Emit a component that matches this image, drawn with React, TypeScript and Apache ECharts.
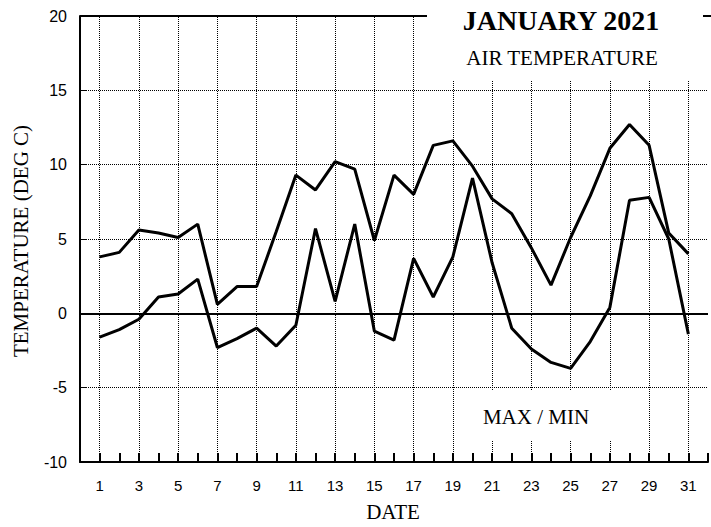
import React, { useEffect, useRef } from "react";
import * as echarts from "echarts";

const days = [1, 2, 3, 4, 5, 6, 7, 8, 9, 10, 11, 12, 13, 14, 15, 16, 17, 18, 19, 20, 21, 22, 23, 24, 25, 26, 27, 28, 29, 30, 31];
const maxTemp = [3.8, 4.1, 5.6, 5.4, 5.1, 6.0, 0.6, 1.8, 1.8, 5.5, 9.3, 8.3, 10.2, 9.7, 4.9, 9.3, 8.0, 11.3, 11.6, 9.9, 7.7, 6.7, 4.4, 1.9, 5.1, 7.9, 11.1, 12.7, 11.3, 5.4, 4.0];
const minTemp = [-1.6, -1.1, -0.4, 1.1, 1.3, 2.3, -2.3, -1.7, -1.0, -2.2, -0.8, 5.7, 0.8, 6.0, -1.2, -1.8, 3.7, 1.1, 3.8, 9.1, 3.4, -1.0, -2.4, -3.3, -3.7, -1.9, 0.4, 7.6, 7.8, 5.0, -1.4];
const gridDays = [1, 3, 5, 7, 9, 11, 13, 15, 17, 19, 21, 23, 25, 27, 29, 31];
const yTicks = [-10, -5, 0, 5, 10, 15, 20];

const title = "JANUARY 2021";
const subtitle = "AIR TEMPERATURE";
const legendText = "MAX / MIN";
const xName = "DATE";
const yName = "TEMPERATURE (DEG C)";

export default function App() {
  const ref = useRef<HTMLDivElement>(null);
  useEffect(() => {
    if (!ref.current) return;
    const chart = echarts.init(ref.current, null, { renderer: "svg" });
    const serif = '"Liberation Serif", "DejaVu Serif", serif';
    const sans = '"Liberation Sans", Arial, sans-serif';
    chart.setOption({
      animation: false,
      backgroundColor: "#fff",
      textStyle: { fontFamily: sans },
      grid: { left: 80, right: 0, top: 16, bottom: 65, containLabel: false },
      xAxis: {
        type: "value",
        min: 0,
        max: 32,
        interval: 1,
        axisLine: { onZero: false, lineStyle: { color: "#000", width: 2 } },
        axisTick: { inside: true, length: 9, lineStyle: { color: "#000", width: 2 } },
        axisLabel: {
          margin: 16,
          color: "#000",
          fontSize: 15,
          fontFamily: sans,
          formatter: (v: number) => (gridDays.indexOf(v) >= 0 ? String(v) : ""),
        },
        splitLine: { show: false },
      },
      yAxis: {
        type: "value",
        min: yTicks[0],
        max: yTicks[yTicks.length - 1],
        interval: 5,
        axisLine: { show: true, lineStyle: { color: "#000", width: 2 } },
        axisTick: { show: true, inside: true, length: 6, lineStyle: { color: "#000", width: 1 } },
        axisLabel: { margin: 13, color: "#000", fontSize: 16, fontFamily: sans },
        splitLine: { show: true, lineStyle: { color: "#000", width: 1, type: [1, 1] } },
      },
      series: [
        {
          name: "MAX",
          type: "line",
          data: days.map((d, i) => [d, maxTemp[i]]),
          symbol: "none",
          lineStyle: { color: "#000", width: 3 },
          z: 5,
          markLine: {
            silent: true,
            symbol: ["none", "none"],
            label: { show: false },
            lineStyle: { color: "#000", width: 2, type: "solid" },
            data: [{ yAxis: 0 }],
          },
        },
        {
          name: "MIN",
          type: "line",
          data: days.map((d, i) => [d, minTemp[i]]),
          symbol: "none",
          lineStyle: { color: "#000", width: 3 },
          z: 5,
          markLine: {
            silent: true,
            symbol: ["none", "none"],
            label: { show: false },
            lineStyle: { color: "#000", width: 1, type: [1, 1] },
            data: gridDays.map((d) => ({ xAxis: d })),
            z: 1,
          },
        },
      ],
      graphic: [
        { type: "line", z: 99, shape: { x1: 80, y1: 16, x2: 711, y2: 16 }, style: { stroke: "#000", lineWidth: 2 } },
        { type: "rect", z: 100, shape: { x: 427, y: 0, width: 276, height: 80 }, style: { fill: "#fff" } },
        { type: "rect", z: 100, shape: { x: 470, y: 391, width: 160, height: 50 }, style: { fill: "#fff" } },
        {
          type: "text", z: 101, x: 561, y: 20,
          style: { text: title, font: `bold 28px ${serif}`, fill: "#000", textAlign: "center", textVerticalAlign: "middle" },
        },
        {
          type: "text", z: 101, x: 562, y: 58,
          style: { text: subtitle, font: `21px ${serif}`, fill: "#000", textAlign: "center", textVerticalAlign: "middle" },
        },
        {
          type: "text", z: 101, x: 536, y: 417,
          style: { text: legendText, font: `21px ${serif}`, fill: "#000", textAlign: "center", textVerticalAlign: "middle" },
        },
        {
          type: "text", z: 101, x: 393, y: 512,
          style: { text: xName, font: `21px ${serif}`, fill: "#000", textAlign: "center", textVerticalAlign: "middle" },
        },
        {
          type: "text", z: 101, x: 21, y: 241, rotation: Math.PI / 2,
          style: { text: yName, font: `21px ${serif}`, fill: "#000", textAlign: "center", textVerticalAlign: "middle" },
        },
      ],
    });
    return () => chart.dispose();
  }, []);
  return <div ref={ref} style={{ position: "fixed", left: 0, top: 0, width: 711, height: 527 }} />;
}
